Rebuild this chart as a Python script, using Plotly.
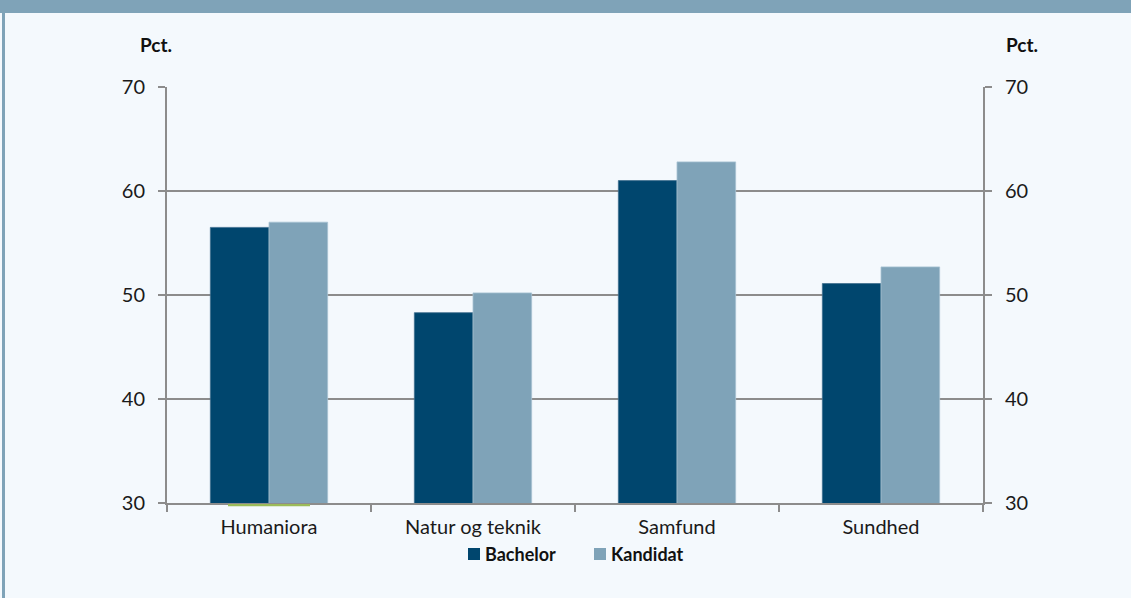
import plotly.graph_objects as go

categories = ["Humaniora", "Natur og teknik", "Samfund", "Sundhed"]
series_names = ["Bachelor", "Kandidat"]
bachelor = [56.5, 48.3, 61.0, 51.1]
kandidat = [57.0, 50.2, 62.8, 52.7]
y_ticks = [30, 40, 50, 60, 70]

W, H = 1131, 598
L, R, T, B = 167, 983, 87, 503
pw, ph = R - L, B - T

def px_x(p):
    return (p - L) / pw

def px_y(p):
    return (B - p) / ph

BG = "#F4F9FD"
DARK = "#00466E"
LIGHT = "#7FA3B8"
GRID = "#8C8C8C"
TXT = "#1A1A1A"
FONT = "Lato"
FS = 20

fig = go.Figure()
fig.add_trace(go.Bar(name=series_names[0], x=categories, y=bachelor, showlegend=False,
                     marker=dict(color=DARK, line=dict(color="#3F6F8E", width=0.8))))
fig.add_trace(go.Bar(name=series_names[1], x=categories, y=kandidat, showlegend=False,
                     marker=dict(color=LIGHT, line=dict(color="#A7C2D2", width=0.8))))
fig.add_trace(go.Scatter(x=categories, y=bachelor, yaxis="y2", mode="markers",
                         marker=dict(opacity=0), showlegend=False, hoverinfo="skip"))

axis_common = dict(showline=True, linecolor=GRID, linewidth=2, ticks="outside",
                   ticklen=7, tickcolor=GRID, tickwidth=2,
                   tickfont=dict(family=FONT, size=FS, color=TXT))

shapes = [
    # top band and left border of the frame
    dict(type="rect", xref="paper", yref="paper", x0=px_x(0), x1=px_x(W),
         y0=px_y(13), y1=px_y(0), fillcolor=LIGHT, line=dict(width=0), layer="above"),
    dict(type="rect", xref="paper", yref="paper", x0=px_x(2), x1=px_x(5),
         y0=px_y(H), y1=px_y(0), fillcolor=LIGHT, line=dict(width=0), layer="above"),
    # small green stroke under the first category
    dict(type="line", xref="paper", yref="paper", x0=px_x(228), x1=px_x(310),
         y0=px_y(505.2), y1=px_y(505.2), line=dict(color="#9BBB59", width=2.2), layer="above"),
]

# manual legend (squares + bold labels)
leg_items = [(468, series_names[0], DARK), (594, series_names[1], LIGHT)]
annotations = [
    dict(text="<b>Pct.</b>", xref="paper", yref="paper", x=px_x(155.5), y=px_y(45),
         showarrow=False, font=dict(family=FONT, size=19, color="#111111"),
         xanchor="center", yanchor="middle"),
    dict(text="<b>Pct.</b>", xref="paper", yref="paper", x=px_x(1021.5), y=px_y(45),
         showarrow=False, font=dict(family=FONT, size=19, color="#111111"),
         xanchor="center", yanchor="middle"),
]
for lx, name, col in leg_items:
    shapes.append(dict(type="rect", xref="paper", yref="paper", x0=px_x(lx), x1=px_x(lx + 12),
                       y0=px_y(560), y1=px_y(548), fillcolor=col, line=dict(width=0)))
    annotations.append(dict(text="<b>" + name + "</b>", xref="paper", yref="paper",
                            x=px_x(lx + 15), y=px_y(553.5), showarrow=False,
                            xanchor="left", yanchor="middle",
                            font=dict(family=FONT, size=18, color="#111111")))

fig.update_layout(
    width=W, height=H,
    margin=dict(l=L, r=W - R, t=T, b=H - B),
    paper_bgcolor=BG, plot_bgcolor=BG,
    font=dict(family=FONT, size=FS, color=TXT),
    barmode="group", bargap=0.425, bargroupgap=0,
    showlegend=False,
    xaxis=dict(**axis_common, tickson="boundaries", showgrid=False, ticklabelstandoff=5),
    yaxis=dict(**axis_common, range=[30, 70], tickvals=y_ticks, showgrid=True,
               gridcolor=GRID, gridwidth=2, zeroline=False, ticklabelstandoff=9),
    yaxis2=dict(**axis_common, range=[30, 70], tickvals=y_ticks, overlaying="y",
                side="right", showgrid=False, zeroline=False, ticklabelstandoff=9),
    shapes=shapes,
    annotations=annotations,
)

fig.write_html("out.html", config={"displayModeBar": False},
               post_script="document.body.style.margin='0';document.body.style.overflow='hidden';")
